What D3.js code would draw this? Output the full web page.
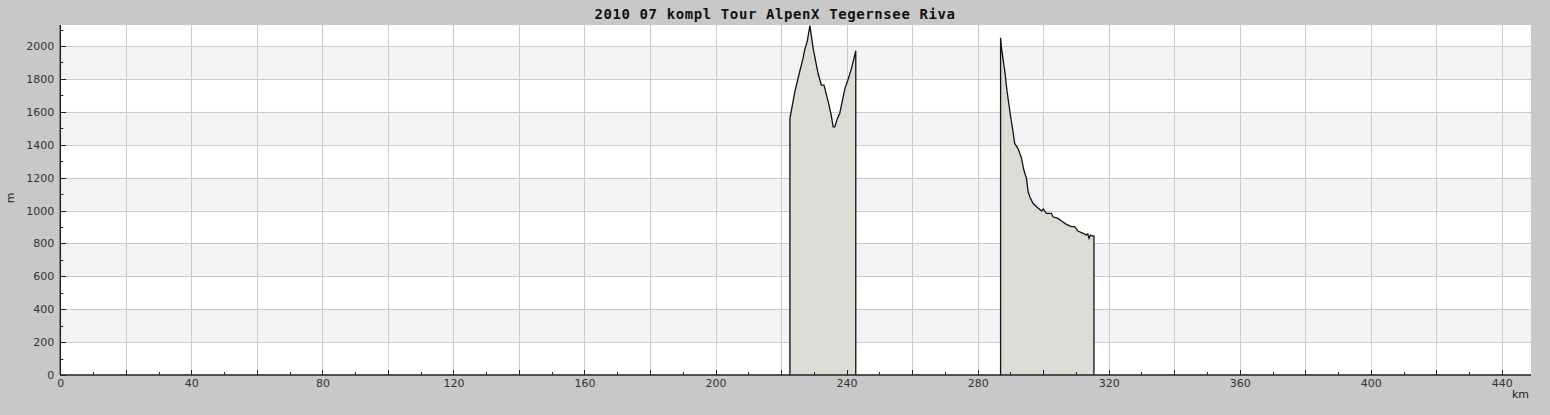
<!DOCTYPE html>
<html>
<head>
<meta charset="utf-8">
<script src="https://cdn.jsdelivr.net/npm/d3@7/dist/d3.min.js"></script>
<style>
  html, body { margin: 0; padding: 0; background: #c8c8c8; }
  svg { display: block; }
</style>
</head>
<body>
<svg id="chart" width="1550" height="415"></svg>
<script>
// ---- data ----
const title = "2010 07 kompl Tour AlpenX Tegernsee Riva";
const xUnit = "km";
const yUnit = "m";
const xTickLabels = [0, 40, 80, 120, 160, 200, 240, 280, 320, 360, 400, 440];
const yTickLabels = [0, 200, 400, 600, 800, 1000, 1200, 1400, 1600, 1800, 2000];

// segment 1
const seg1Km   = [222.7, 224.2, 225.5, 226.7, 227.2, 228.0, 228.8, 229.8, 231.3, 232.3, 233.1, 234.4, 235.2, 235.9, 236.4, 237.2, 237.9, 239.5, 240.5, 241.5, 242.8];
const seg1Elev = [1560, 1722, 1830, 1925, 1976, 2030, 2124, 1985, 1833, 1763, 1763, 1661, 1590, 1509, 1509, 1560, 1590, 1743, 1800, 1864, 1970];

// segment 2
const seg2Km   = [287.0, 287.3, 288.3, 289.0, 290.0, 290.8, 291.3, 292.3, 293.4, 294.1, 294.9, 295.4, 295.9, 296.9, 298.0, 299.5, 300.0, 301.0, 302.5, 303.0, 304.5, 305.6, 307.1, 308.6, 309.6, 310.6, 312.2, 313.2, 313.6, 314.0, 314.4, 314.7, 315.5];
const seg2Elev = [2050, 1986, 1844, 1722, 1581, 1479, 1408, 1378, 1317, 1246, 1196, 1114, 1084, 1044, 1023, 997, 1009, 983, 983, 962, 952, 936, 916, 902, 902, 875, 861, 851, 858, 831, 850, 847, 845];

const segments = [
  seg1Km.map((k, i) => ({ km: k, elev: seg1Elev[i] })),
  seg2Km.map((k, i) => ({ km: k, elev: seg2Elev[i] }))
];

// ---- layout ----
const svg = d3.select("#chart");
const mLeft = 60.3, mRight = 1531, mTop = 25, mBottom = 375;
const x = d3.scaleLinear().domain([0, 448.9]).range([mLeft, mRight]);
const y = d3.scaleLinear().domain([0, 2128]).range([mBottom, mTop]);

// plot background
svg.append("rect").attr("x", mLeft).attr("y", mTop)
  .attr("width", mRight - mLeft).attr("height", mBottom - mTop).attr("fill", "#ffffff");

// alternating bands
const bandStarts = d3.range(200, 2001, 400);
svg.append("g").selectAll("rect").data(bandStarts).join("rect")
  .attr("x", mLeft).attr("width", mRight - mLeft)
  .attr("y", d => y(d + 200)).attr("height", d => y(d) - y(d + 200))
  .attr("fill", "#f3f2f5");

// grid lines
const grid = svg.append("g").attr("stroke", "#cbcbcb").attr("stroke-width", 1);
grid.selectAll(".gy").data(d3.range(200, 2001, 200)).join("line")
  .attr("x1", mLeft).attr("x2", mRight)
  .attr("y1", d => Math.round(y(d)) + 0.5).attr("y2", d => Math.round(y(d)) + 0.5);
grid.selectAll(".gx").data(d3.range(20, 441, 20)).join("line")
  .attr("y1", mTop).attr("y2", mBottom)
  .attr("x1", d => Math.round(x(d)) + 0.5).attr("x2", d => Math.round(x(d)) + 0.5);

// areas
const area = d3.area().x(d => x(d.km)).y0(y(0)).y1(d => y(d.elev));
const line = d3.line().x(d => x(d.km)).y(d => y(d.elev));
segments.forEach(seg => {
  svg.append("path").datum(seg).attr("d", area).attr("fill", "#dcdbd6");
  const outline = [{ km: seg[0].km, elev: 0 }, ...seg, { km: seg[seg.length - 1].km, elev: 0 }];
  svg.append("path").datum(outline).attr("d", line)
    .attr("fill", "none").attr("stroke", "#111").attr("stroke-width", 1.3);
});

// axes
const fontFam = "'DejaVu Sans', sans-serif";
const fmt = d3.format("d");
const yAxis = d3.axisLeft(y).tickValues(yTickLabels).tickFormat(fmt).tickSize(0).tickPadding(6);
const gy = svg.append("g").attr("transform", `translate(${mLeft},0)`).call(yAxis);
gy.select(".domain").remove();
gy.selectAll("text").attr("font-family", fontFam).attr("font-size", 11).attr("fill", "#333");

const xAxis = d3.axisBottom(x).tickValues(xTickLabels).tickFormat(fmt).tickSize(0).tickPadding(4);
const gx = svg.append("g").attr("transform", `translate(0,${mBottom})`).call(xAxis);
gx.select(".domain").remove();
gx.selectAll("text").attr("font-family", fontFam).attr("font-size", 11).attr("fill", "#333");

// tick marks (inward)
const ticks = svg.append("g").attr("stroke", "#222").attr("stroke-width", 1);
ticks.selectAll(".ty").data(d3.range(0, 2101, 100)).join("line")
  .attr("x1", mLeft).attr("x2", d => mLeft + (d % 200 === 0 ? 6 : 3))
  .attr("y1", d => Math.round(y(d)) + 0.5).attr("y2", d => Math.round(y(d)) + 0.5);
ticks.selectAll(".tx").data(d3.range(0, 441, 10)).join("line")
  .attr("y1", mBottom).attr("y2", d => mBottom - (d % 20 === 0 ? 5 : 3))
  .attr("x1", d => Math.round(x(d)) + 0.5).attr("x2", d => Math.round(x(d)) + 0.5);

// axis lines
svg.append("line").attr("x1", mLeft).attr("x2", mLeft).attr("y1", mTop).attr("y2", mBottom)
  .attr("stroke", "#222").attr("stroke-width", 1.5);
svg.append("line").attr("x1", mLeft).attr("x2", mRight).attr("y1", mBottom).attr("y2", mBottom)
  .attr("stroke", "#222").attr("stroke-width", 1.5);

// unit labels
svg.append("text").text(xUnit).attr("x", 1529).attr("y", 398)
  .attr("text-anchor", "end").attr("font-family", fontFam).attr("font-size", 11).attr("fill", "#222");
svg.append("text").text(yUnit).attr("transform", "translate(14,198) rotate(-90)")
  .attr("text-anchor", "middle").attr("font-family", fontFam).attr("font-size", 11).attr("fill", "#222");

// title
svg.append("text").text(title).attr("x", 775).attr("y", 19)
  .attr("text-anchor", "middle").attr("font-family", "'DejaVu Sans Mono', monospace")
  .attr("font-size", 14).attr("font-weight", "bold").attr("letter-spacing", 0.6).attr("fill", "#111");
</script>
</body>
</html>
